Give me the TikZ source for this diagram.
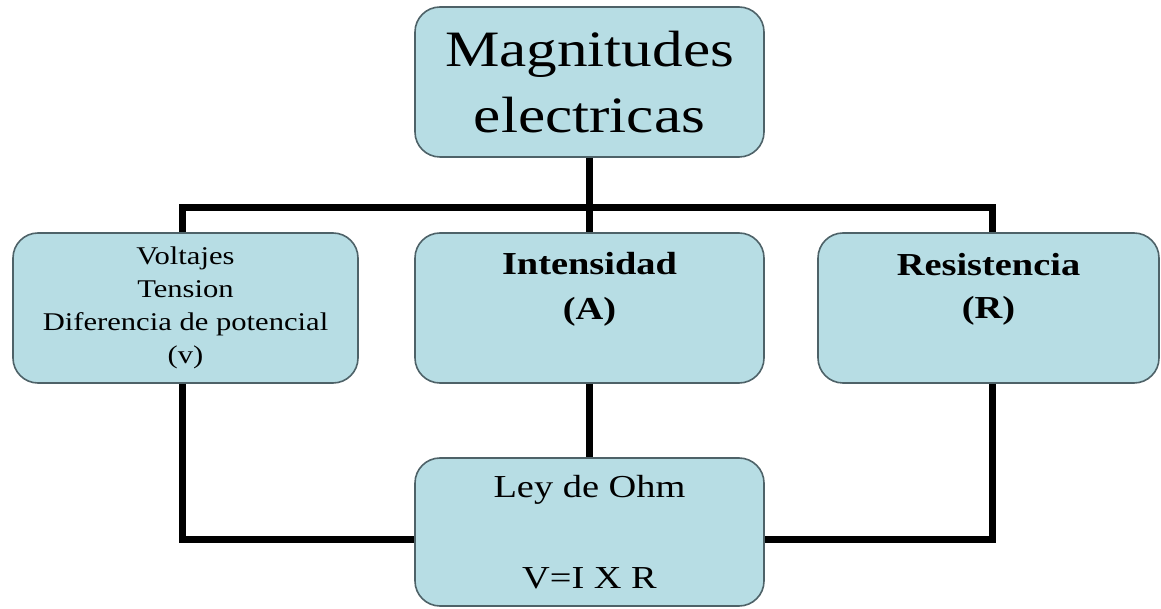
\documentclass[tikz,border=0pt]{standalone}
\usepackage{fontspec}
\setmainfont[FakeStretch=1.2]{Liberation Serif}
\usetikzlibrary{positioning}
\definecolor{boxfill}{RGB}{183,221,228}
\definecolor{boxline}{RGB}{78,98,104}

\begin{document}
\begin{tikzpicture}[x=1pt, y=1pt, every node/.style={inner sep=0pt}]
\tikzstyle{box}=[draw=boxline, line width=1.6pt, fill=boxfill, rounded corners=25pt, minimum height=150pt, align=center]
\tikzstyle{wire}=[line width=7pt, black]
\useasboundingbox (0,0) rectangle (1161,608);
\node[box, minimum width=349pt, font=\fontsize{51}{66}\selectfont] (mag) at (589.5,526) {Magnitudes\\electricas};
\node[box, minimum width=345pt, font=\fontsize{25.5}{33}\selectfont] (volt) at (185.5,300) {Voltajes\\Tension\\Diferencia de potencial\\(v)};
\node[box, minimum width=349pt] (int) at (589.5,300) {};
\node[box, minimum width=341pt] (res) at (988.5,300) {};
\node[box, minimum width=349pt, minimum height=148pt, font=\fontsize{32}{91}\selectfont] (ohm) at (589.5,76) {Ley de Ohm\\V=I X R};
\node[below=20pt of int.north, align=center, font=\bfseries\fontsize{32}{45}\selectfont] (inttxt) {Intensidad\\(A)};
\node[below=21pt of res.north, align=center, font=\bfseries\fontsize{32}{43}\selectfont] (restxt) {Resistencia\\(R)};
\coordinate (bus) at (589.5,400);
% connectors
\draw[wire] (mag) -- (int);
\draw[wire] ([xshift=-3.5pt]volt.north) |- (bus) -| ([xshift=4pt]res.north);
\draw[wire] (int) -- (ohm);
\draw[wire] ([xshift=-3.5pt]volt.south) |- ([yshift=-7pt]ohm.west);
\draw[wire] ([xshift=4pt]res.south) |- ([yshift=-7pt]ohm.east);
\end{tikzpicture}
\end{document}
